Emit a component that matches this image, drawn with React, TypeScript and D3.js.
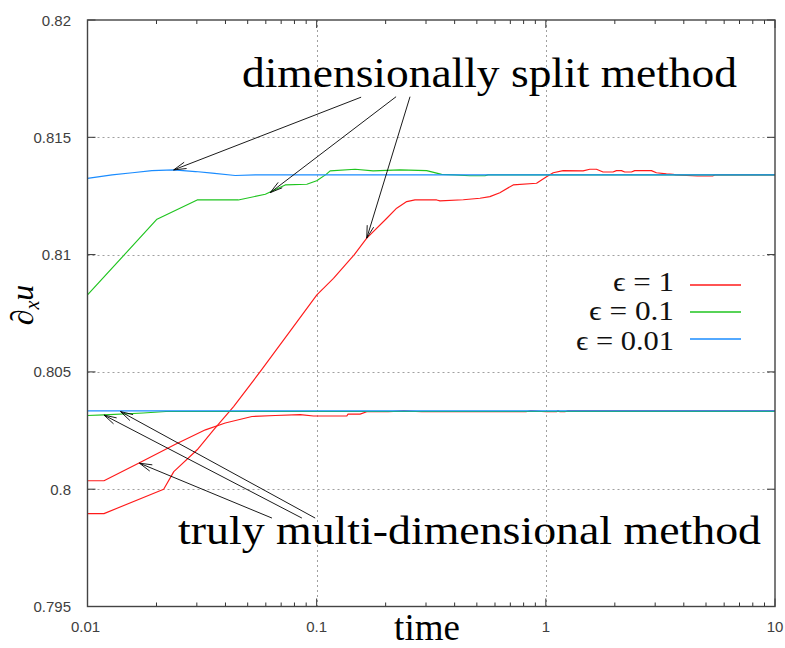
import React from "react";
import * as d3 from "d3";

// ε = 1, dimensionally split method
const redSplitT = [0.01, 0.0118, 0.0215, 0.0238, 0.0301, 0.0355, 0.0434, 0.0567, 0.0792, 0.1002, 0.1184, 0.146, 0.1654, 0.2023, 0.2234, 0.2472, 0.2686, 0.3339, 0.3452, 0.4362, 0.5157, 0.57, 0.63, 0.7203, 0.911, 1.007, 1.077, 1.19, 1.454, 1.555, 1.663, 1.777, 1.963, 2.033, 2.138, 2.209, 2.363, 2.443, 2.888, 3.037, 3.357, 3.587, 3.7, 4.59, 5.34, 5.5, 10];
const redSplitV = [0.79896, 0.79896, 0.8, 0.80075, 0.80168, 0.80253, 0.80352, 0.80501, 0.80693, 0.80828, 0.80899, 0.81, 0.8107, 0.81155, 0.81198, 0.81226, 0.81233, 0.81233, 0.81229, 0.81234, 0.8124, 0.81247, 0.81264, 0.81297, 0.81304, 0.81332, 0.81349, 0.81358, 0.81357, 0.81364, 0.81364, 0.81352, 0.81352, 0.81358, 0.81358, 0.81352, 0.81352, 0.81358, 0.81358, 0.81349, 0.81344, 0.81342, 0.8134, 0.81335, 0.81335, 0.8134, 0.8134];

// ε = 1, truly multi-dimensional method
const redTrulyT = [0.01, 0.0118, 0.0167, 0.0242, 0.0327, 0.0399, 0.0522, 0.0659, 0.0848, 0.0968, 0.1354, 0.137, 0.1547, 0.1654, 0.2055, 0.24, 0.2873, 0.8185, 0.86, 1.007, 1.113, 1.13, 1.151, 1.21, 1.25, 10];
const redTrulyV = [0.80036, 0.80036, 0.80111, 0.80192, 0.80253, 0.80282, 0.8031, 0.80314, 0.80318, 0.80312, 0.80312, 0.8032, 0.8032, 0.8033, 0.8033, 0.80334, 0.8033, 0.8033, 0.80334, 0.8033, 0.8033, 0.80334, 0.8033, 0.8033, 0.80334, 0.80334];

// ε = 0.1
const greenSplitT = [0.01, 0.0201, 0.0301, 0.0455, 0.0597, 0.0729, 0.0906, 0.1, 0.11, 0.1145, 0.1472, 0.1763, 0.2311, 0.302, 0.351, 0.4, 0.466, 0.542, 0.56, 10];
const greenSplitV = [0.80828, 0.81151, 0.81233, 0.81233, 0.81257, 0.81297, 0.813, 0.81315, 0.81342, 0.81357, 0.81364, 0.81357, 0.81361, 0.81358, 0.81342, 0.8134, 0.81336, 0.81336, 0.8134, 0.8134];
const greenTrulyT = [0.01, 0.0118, 0.0175, 0.022, 10];
const greenTrulyV = [0.80314, 0.80317, 0.80325, 0.80331, 0.80331];

// ε = 0.01
const blueSplitT = [0.01, 0.0128, 0.0157, 0.0191, 0.0238, 0.0296, 0.035, 0.0441, 0.054, 10];
const blueSplitV = [0.81325, 0.8134, 0.81349, 0.81358, 0.81361, 0.81354, 0.81347, 0.81337, 0.8134, 0.8134];
const blueTrulyT = [0.01, 10];
const blueTrulyV = [0.80334, 0.80334];

const legendLabels = ["ϵ = 1", "ϵ = 0.1", "ϵ = 0.01"];
const seriesColors = ["#ff1a1a", "#1fc41f", "#1a8cff"];

const xTickValues = [0.01, 0.1, 1, 10];
const xTickLabels = ["0.01", "0.1", "1", "10"];
const yTickValues = [0.795, 0.8, 0.805, 0.81, 0.815, 0.82];
const yTickLabels = ["0.795", "0.8", "0.805", "0.81", "0.815", "0.82"];

// annotation arrows in data coordinates: [tFrom, vFrom, tTo, vTo]
const splitArrows = [
  [0.1563, 0.81671, 0.02377, 0.81361],
  [0.2221, 0.81673, 0.06271, 0.81264],
  [0.2555, 0.81673, 0.1654, 0.8107],
];
const trulyArrows = [
  [0.0638, 0.79877, 0.01685, 0.80111],
  [0.0862, 0.79877, 0.0118, 0.80316],
  [0.0985, 0.79877, 0.01393, 0.80331],
];

const W = 785;
const H = 648;
const L = 87.5;
const R = 775;
const T = 20;
const B = 606.5;

const x = d3.scaleLog().domain([0.01, 10]).range([L, R]);
const y = d3.scaleLinear().domain([0.795, 0.82]).range([B, T]);

const line = d3
  .line<[number, number]>()
  .x((d) => x(d[0]))
  .y((d) => y(d[1]));

function zip(t: number[], v: number[]): [number, number][] {
  return t.map((ti, i) => [ti, v[i]] as [number, number]);
}

const curves: { pts: [number, number][]; color: string }[] = [
  { pts: zip(redSplitT, redSplitV), color: seriesColors[0] },
  { pts: zip(redTrulyT, redTrulyV), color: seriesColors[0] },
  { pts: zip(greenSplitT, greenSplitV), color: seriesColors[1] },
  { pts: zip(greenTrulyT, greenTrulyV), color: seriesColors[1] },
  { pts: zip(blueSplitT, blueSplitV), color: seriesColors[2] },
  { pts: zip(blueTrulyT, blueTrulyV), color: seriesColors[2] },
];

function Arrow({ a }: { a: number[] }) {
  const x1 = x(a[0]);
  const y1 = y(a[1]);
  const x2 = x(a[2]);
  const y2 = y(a[3]);
  const ang = Math.atan2(y1 - y2, x1 - x2);
  const len = 13;
  const spread = (15 * Math.PI) / 180;
  const h1 = [x2 + len * Math.cos(ang + spread), y2 + len * Math.sin(ang + spread)];
  const h2 = [x2 + len * Math.cos(ang - spread), y2 + len * Math.sin(ang - spread)];
  return (
    <g stroke="#000" strokeWidth={0.9} fill="none">
      <line x1={x1} y1={y1} x2={x2} y2={y2} />
      <polyline points={`${h1[0]},${h1[1]} ${x2},${y2} ${h2[0]},${h2[1]}`} />
    </g>
  );
}

export default function App() {
  const minorX: number[] = [];
  for (const dec of [0.01, 0.1, 1]) {
    for (let k = 2; k <= 9; k++) minorX.push(dec * k);
  }
  const serif = "'Liberation Serif', 'DejaVu Serif', serif";
  const sans = "'Liberation Sans', Arial, sans-serif";
  return (
    <svg
      width={W}
      height={H}
      viewBox={`0 0 ${W} ${H}`}
      style={{ position: "absolute", left: 0, top: 0, background: "#fff" }}
    >
      <rect x={0} y={0} width={W} height={H} fill="#fff" />
      {/* dotted grid */}
      <g stroke="#a0a0a0" strokeWidth={1} strokeDasharray="2,3">
        {[0.1, 1].map((v) => (
          <line key={"gx" + v} x1={Math.round(x(v)) + 0.5} x2={Math.round(x(v)) + 0.5} y1={T} y2={B} />
        ))}
        {[0.8, 0.805, 0.81, 0.815].map((v) => (
          <line key={"gy" + v} x1={L} x2={R} y1={Math.round(y(v)) + 0.5} y2={Math.round(y(v)) + 0.5} />
        ))}
      </g>
      {/* ticks */}
      <g stroke="#333" strokeWidth={1}>
        {xTickValues.map((v) => (
          <g key={"tx" + v}>
            <line x1={x(v)} x2={x(v)} y1={B} y2={B - 8} />
            <line x1={x(v)} x2={x(v)} y1={T} y2={T + 8} />
          </g>
        ))}
        {minorX.map((v) => (
          <g key={"mx" + v}>
            <line x1={x(v)} x2={x(v)} y1={B} y2={B - 4} />
            <line x1={x(v)} x2={x(v)} y1={T} y2={T + 4} />
          </g>
        ))}
        {yTickValues.map((v) => (
          <g key={"ty" + v}>
            <line x1={L} x2={L + 8} y1={y(v)} y2={y(v)} />
            <line x1={R} x2={R - 8} y1={y(v)} y2={y(v)} />
          </g>
        ))}
      </g>
      {/* tick labels */}
      <g fontFamily={sans} fontSize={15} fill="#404040">
        {yTickValues.map((v, i) => (
          <text key={"ly" + v} x={71} y={y(v) + 5.5} textAnchor="end">
            {yTickLabels[i]}
          </text>
        ))}
        {xTickValues.map((v, i) => (
          <text key={"lx" + v} x={x(v) - (i === 0 ? 2 : 0)} y={632} textAnchor="middle">
            {xTickLabels[i]}
          </text>
        ))}
      </g>
      {/* data curves */}
      <g fill="none" strokeWidth={1.15} strokeLinejoin="round">
        {curves.map((c, i) => (
          <path key={"c" + i} d={line(c.pts) || ""} stroke={c.color} />
        ))}
      </g>
      {/* frame */}
      <rect x={L} y={T} width={R - L} height={B - T} fill="none" stroke="#444" strokeWidth={1.4} />
      {/* annotations */}
      <text x={242} y={87} fontFamily={serif} fontSize={42} fill="#000" textLength={495} lengthAdjust="spacingAndGlyphs">
        dimensionally split method
      </text>
      <text x={178} y={544} fontFamily={serif} fontSize={40} fill="#000" textLength={583} lengthAdjust="spacingAndGlyphs">
        truly multi-dimensional method
      </text>
      {splitArrows.map((a, i) => (
        <Arrow key={"sa" + i} a={a} />
      ))}
      {trulyArrows.map((a, i) => (
        <Arrow key={"ta" + i} a={a} />
      ))}
      {/* legend */}
      {legendLabels.map((lab, i) => {
        const ly = [285, 312, 339][i];
        const tb = [291, 320, 350][i];
        const tl = [61, 85, 98][i];
        return (
          <g key={"lg" + i}>
            <text x={674} y={tb} fontFamily={serif} fontSize={28} fill="#111" textAnchor="end" textLength={tl} lengthAdjust="spacingAndGlyphs">
              {lab}
            </text>
            <line x1={690} x2={741} y1={ly} y2={ly} stroke={seriesColors[i]} strokeWidth={1.3} />
          </g>
        );
      })}
      {/* axis titles */}
      <text x={427} y={640} fontFamily={serif} fontSize={37} fill="#000" textAnchor="middle">
        time
      </text>
      <text
        transform="translate(33,305) rotate(-90)"
        fontFamily={serif}
        fontStyle="italic"
        fontSize={32}
        fill="#000"
        textAnchor="middle"
      >
        ∂<tspan fontSize={20} dy={6}>x</tspan>
        <tspan dy={-6}>u</tspan>
      </text>
    </svg>
  );
}
